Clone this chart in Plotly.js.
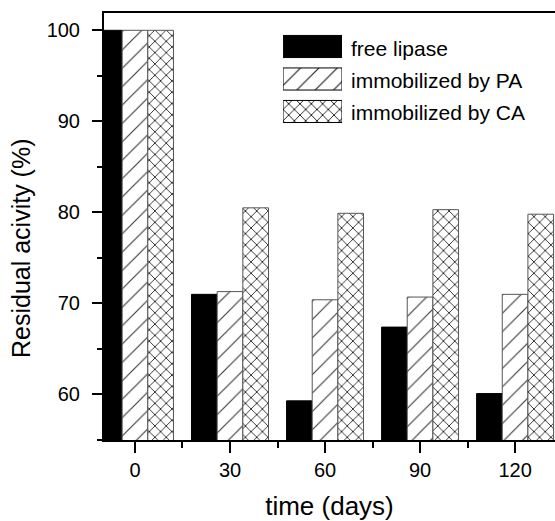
<!DOCTYPE html>
<html>
<head>
<meta charset="utf-8">
<script src="https://cdn.plot.ly/plotly-3.0.1.min.js"></script>
<style>html,body{margin:0;padding:0;background:#fff;}#chart{width:555px;height:521px;}</style>
</head>
<body>
<div id="chart"></div>
<script>
// ---- data ----
var days = [0, 30, 60, 90, 120];
var freeLipase = [100, 71.0, 59.3, 67.4, 60.1];
var immobPA = [100, 71.3, 70.4, 70.7, 71.0];
var immobCA = [100, 80.5, 79.9, 80.3, 79.8];
var seriesNames = ['free lipase', 'immobilized by PA', 'immobilized by CA'];
var xTitle = 'time (days)';
var yTitle = 'Residual acivity (%)';

// ---- styles ----
var FONT = 'Liberation Sans, Arial, sans-serif';
var barW = 8.1;
var styles = [
  {color: '#000000', line: {color: '#000000', width: 1}},
  {color: '#ffffff', line: {color: '#555555', width: 1},
   pattern: {shape: '/', fgcolor: '#333333', bgcolor: '#ffffff', size: 13, solidity: 0.08}},
  {color: '#ffffff', line: {color: '#555555', width: 1},
   pattern: {shape: 'x', fgcolor: '#222222', bgcolor: '#ffffff', size: 8, solidity: 0.21}}
];
var values = [freeLipase, immobPA, immobCA];
var offsets = [-1.5 * barW, -0.5 * barW, 0.5 * barW];

var traces = [];
values.forEach(function (v, i) {
  traces.push({
    type: 'bar', x: days, y: v, name: seriesNames[i],
    width: barW, offset: offsets[i],
    marker: styles[i], showlegend: false, hoverinfo: 'x+y'
  });
});
// legend swatches drawn as bars on a small helper axis pair
seriesNames.forEach(function (n, i) {
  var st = JSON.parse(JSON.stringify(styles[i]));
  st.line = {color: '#000000', width: 1};
  if (st.pattern) { st.pattern.fgcolor = '#111111'; }
  traces.push({
    type: 'bar', orientation: 'h', x: [1], y: [i], name: n,
    width: 0.68, offset: -0.34, xaxis: 'x2', yaxis: 'y2',
    marker: st, showlegend: false, hoverinfo: 'skip'
  });
});

var annotations = seriesNames.map(function (n, i) {
  return {
    xref: 'paper', yref: 'paper', x: 0.5432, y: [0.918, 0.843, 0.767][i],
    xanchor: 'left', yanchor: 'middle', text: n, showarrow: false,
    font: {family: FONT, size: 21, color: '#000'}
  };
});
annotations.push({
  xref: 'paper', yref: 'paper', x: -0.184, y: 0.4496,
  xanchor: 'center', yanchor: 'middle', textangle: -90,
  text: yTitle, showarrow: false,
  font: {family: FONT, size: 25, color: '#000'}
});

var layout = {
  width: 555, height: 521,
  margin: {l: 104, r: 0, t: 13, b: 81},
  paper_bgcolor: '#fff', plot_bgcolor: '#fff',
  barmode: 'overlay',
  showlegend: false,
  font: {family: FONT, color: '#000'},
  xaxis: {
    range: [-9.78, 132.6], tick0: 0, dtick: 30,
    showgrid: false, zeroline: false,
    showline: true, linecolor: '#000', linewidth: 2, mirror: true,
    ticks: 'outside', ticklen: 11, tickwidth: 2, tickcolor: '#000',
    minor: {dtick: 15, tick0: 0, ticks: 'outside', ticklen: 6, tickwidth: 2, tickcolor: '#000'},
    tickfont: {family: FONT, size: 20, color: '#000'},
    ticklabelstandoff: 0,
    title: {text: xTitle, font: {family: FONT, size: 26, color: '#000'}, standoff: 28}
  },
  yaxis: {
    range: [55, 101.9], tick0: 0, dtick: 10,
    showgrid: false, zeroline: false,
    showline: true, linecolor: '#000', linewidth: 2, mirror: false,
    ticks: 'outside', ticklen: 10, tickwidth: 2, tickcolor: '#000',
    minor: {dtick: 5, tick0: 0, ticks: 'outside', ticklen: 5, tickwidth: 2, tickcolor: '#000'},
    tickfont: {family: FONT, size: 20, color: '#000'},
    ticklabelstandoff: 8
  },
  xaxis2: {
    domain: [0.397, 0.5277], range: [0, 1], anchor: 'y2',
    visible: false, fixedrange: true
  },
  yaxis2: {
    domain: [0.7313, 0.9596], range: [2.5, -0.5], anchor: 'x2',
    visible: false, fixedrange: true
  },
  annotations: annotations
};

Plotly.newPlot('chart', traces, layout, {displayModeBar: false, staticPlot: true});
</script>
</body>
</html>
